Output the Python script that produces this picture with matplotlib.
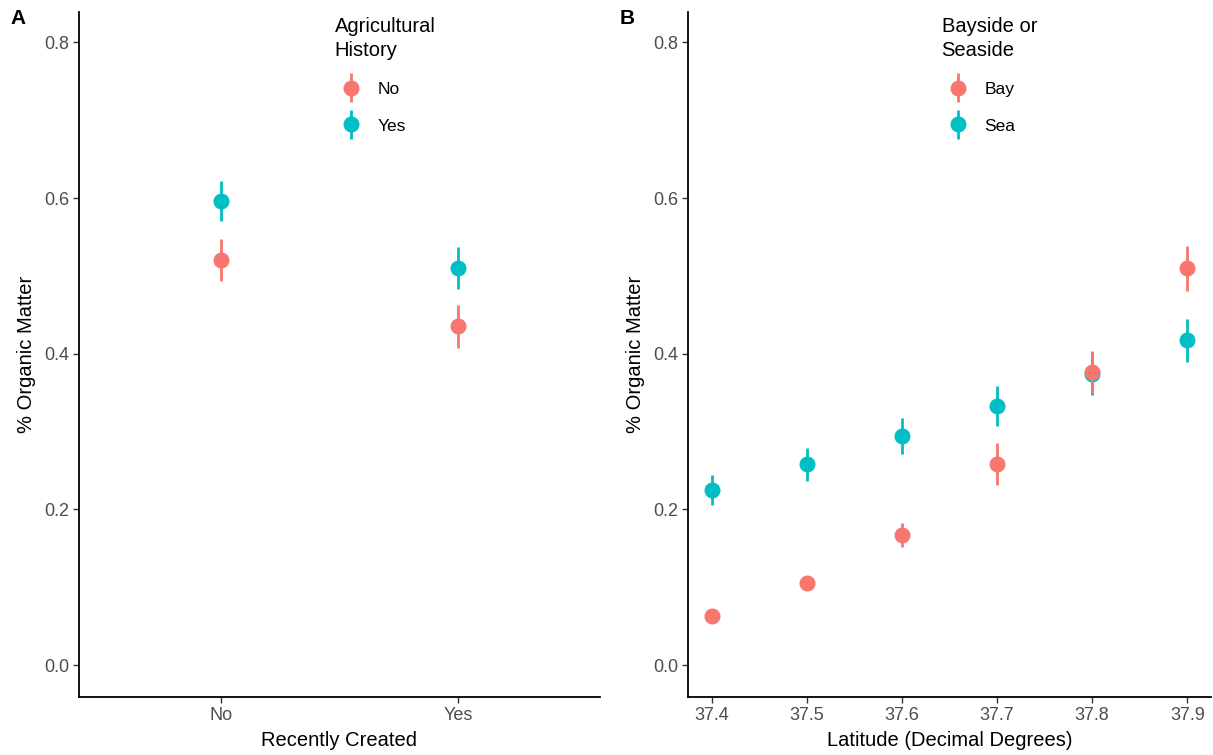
import numpy as np
import matplotlib.pyplot as plt
from matplotlib.container import ErrorbarContainer
from matplotlib.legend_handler import HandlerErrorbar

plt.rcParams['font.family'] = ['Liberation Sans', 'DejaVu Sans']

RED = '#F8766D'
TEAL = '#00BFC4'

# panel A: organic matter by "recently created", split by agricultural history
recent_labels = ['No', 'Yes']
ag_no_mean = [0.520, 0.435]
ag_no_se = [0.027, 0.027]
ag_yes_mean = [0.596, 0.510]
ag_yes_se = [0.026, 0.027]

# panel B: organic matter by latitude, bay vs sea side
latitude = [37.4, 37.5, 37.6, 37.7, 37.8, 37.9]
bay_mean = [0.063, 0.105, 0.167, 0.258, 0.376, 0.510]
bay_se = [0.006, 0.008, 0.015, 0.027, 0.027, 0.029]
sea_mean = [0.225, 0.258, 0.294, 0.333, 0.374, 0.417]
sea_se = [0.019, 0.021, 0.023, 0.026, 0.027, 0.028]

yticks = [0.0, 0.2, 0.4, 0.6, 0.8]

TICK_FS = 13
TITLE_FS = 14.5
LEG_FS = 12.5


def style_axes(ax):
    for s in ['top', 'right']:
        ax.spines[s].set_visible(False)
    for s in ['left', 'bottom']:
        ax.spines[s].set_linewidth(1.3)
        ax.spines[s].set_color('black')
    ax.tick_params(length=4, width=1.0, color='#333333', labelcolor='#4D4D4D',
                   labelsize=TICK_FS, pad=3)
    ax.set_ylim(-0.041, 0.839)
    ax.set_yticks(yticks)
    ax.set_yticklabels([f'{v:.1f}' for v in yticks])
    ax.set_ylabel('% Organic Matter', fontsize=TITLE_FS, labelpad=6)


def points(ax, x, y, err, color, z):
    return ax.errorbar(x, y, yerr=err, fmt='o', color=color, ms=10.5,
                       elinewidth=2.0, capsize=0, zorder=z)


def add_legend(ax, handles, labels, title, x0):
    leg = ax.legend(handles, labels, title=title, loc='upper left',
                    bbox_to_anchor=(x0, 1.015), frameon=False,
                    fontsize=LEG_FS, title_fontsize=TITLE_FS,
                    handlelength=1.85, handletextpad=0.6,
                    labelspacing=1.25,
                    handler_map={ErrorbarContainer: HandlerErrorbar(xerr_size=0.4, yerr_size=0.85)})
    leg._legend_box.align = 'left'
    leg.get_title().set_linespacing(1.3)
    return leg


fig = plt.figure(figsize=(12.13, 7.55), dpi=100)
axA = fig.add_axes([0.0651, 0.0768, 0.4295, 0.9073])
axB = fig.add_axes([0.5672, 0.0768, 0.4312, 0.9073])

# ---- panel A
xa = np.arange(1, len(recent_labels) + 1)
h_no = points(axA, xa, ag_no_mean, ag_no_se, RED, 3)
h_yes = points(axA, xa, ag_yes_mean, ag_yes_se, TEAL, 3)
axA.set_xlim(0.4, 2.6)
axA.set_xticks(xa)
axA.set_xticklabels(recent_labels)
axA.set_xlabel('Recently Created', fontsize=TITLE_FS, labelpad=5)
style_axes(axA)
add_legend(axA, [h_no, h_yes], ['No', 'Yes'], 'Agricultural\nHistory', 0.461)

# ---- panel B (bay drawn over sea)
h_sea = points(axB, latitude, sea_mean, sea_se, TEAL, 3)
h_bay = points(axB, latitude, bay_mean, bay_se, RED, 4)
axB.set_xlim(37.375, 37.925)
axB.set_xticks(latitude)
axB.set_xticklabels([f'{v:.1f}' for v in latitude])
axB.set_xlabel('Latitude (Decimal Degrees)', fontsize=TITLE_FS, labelpad=5)
style_axes(axB)
add_legend(axB, [h_bay, h_sea], ['Bay', 'Sea'], 'Bayside or\nSeaside', 0.455)

fig.text(10 / 1213, 1 - 24 / 755, 'A', fontsize=15, fontweight='bold')
fig.text(620 / 1213, 1 - 24 / 755, 'B', fontsize=15, fontweight='bold')

fig.savefig('out.png', dpi=100)
